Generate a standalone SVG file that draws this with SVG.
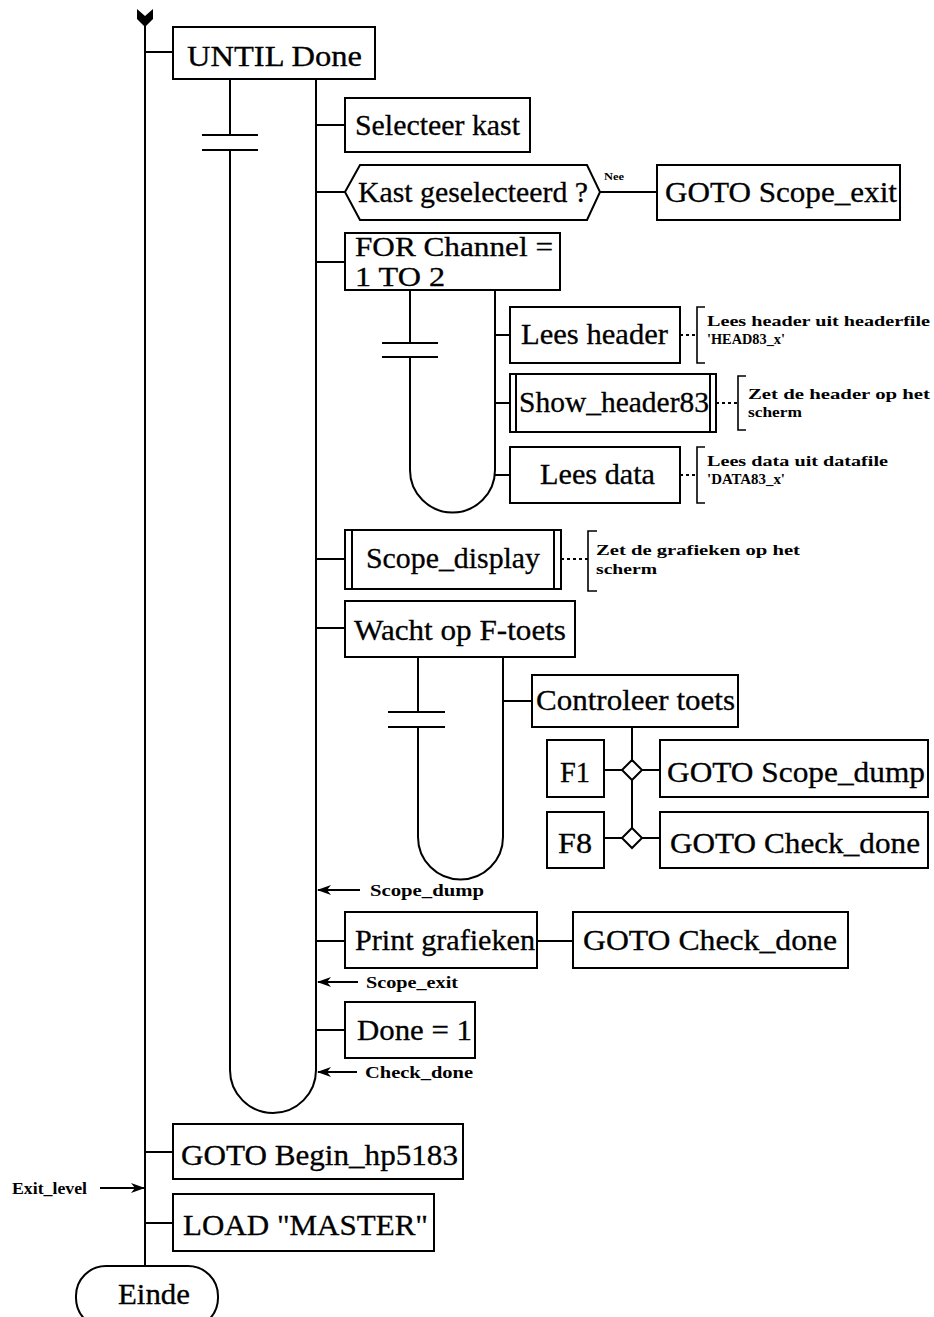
<svg xmlns="http://www.w3.org/2000/svg" width="934" height="1317" viewBox="0 0 934 1317">
  <defs>
    <marker id="arrow" viewBox="0 0 14 10" refX="13" refY="5" markerWidth="14" markerHeight="10" markerUnits="userSpaceOnUse" orient="auto">
      <path d="M0,0 L14,5 L0,10 L4,5 Z" fill="#000"/>
    </marker>
  </defs>
  <style>
    .box { fill: #fff; stroke: #000; stroke-width: 2; }
    .ln { fill: none; stroke: #000; stroke-width: 2; }
    .dash { fill: none; stroke: #000; stroke-width: 2; stroke-dasharray: 3 3; }
    .br { fill: none; stroke: #000; stroke-width: 1.6; }
    .t { font-family: "Liberation Serif", "Times New Roman", serif; font-size: 29px; fill: #000; stroke: #000; stroke-width: 0.3; }
    .t2 { font-family: "Liberation Serif", "Times New Roman", serif; font-size: 27px; fill: #000; stroke: #000; stroke-width: 0.3; }
    .c { font-family: "Liberation Serif", "Times New Roman", serif; font-size: 17px; font-weight: bold; fill: #000; }
    .n { font-family: "Liberation Serif", "Times New Roman", serif; font-size: 15.5px; font-weight: bold; fill: #000; }
    .s { font-family: "Liberation Serif", "Times New Roman", serif; font-size: 11px; font-weight: bold; fill: #000; }
  </style>
  <rect width="934" height="1317" fill="#fff"/>

  <!-- connectors: trunks, loops and stubs -->
  <g id="connectors">
    <!-- main trunk with entry arrow -->
    <line class="ln" x1="145" y1="20" x2="145" y2="1268"/>
    <path d="M137,9 L145,16 L153,9 L153,19 L145,27 L137,19 Z" fill="#000"/>
    <line class="ln" x1="145" y1="52" x2="173" y2="52"/>
    <line class="ln" x1="145" y1="1152" x2="173" y2="1152"/>
    <line class="ln" x1="145" y1="1223" x2="173" y2="1223"/>

    <!-- UNTIL loop -->
    <line class="ln" x1="230" y1="79" x2="230" y2="135"/>
    <line class="ln" x1="202" y1="135" x2="258" y2="135"/>
    <line class="ln" x1="202" y1="150" x2="258" y2="150"/>
    <path class="ln" d="M230,150 L230,1070 A43,43 0 0 0 316,1070 L316,79"/>
    <line class="ln" x1="316" y1="125" x2="345" y2="125"/>
    <line class="ln" x1="316" y1="192" x2="345" y2="192"/>
    <line class="ln" x1="600" y1="192" x2="657" y2="192"/>
    <line class="ln" x1="316" y1="262" x2="345" y2="262"/>
    <line class="ln" x1="316" y1="559" x2="345" y2="559"/>
    <line class="ln" x1="316" y1="628" x2="345" y2="628"/>
    <line class="ln" x1="316" y1="941" x2="345" y2="941"/>
    <line class="ln" x1="537" y1="941" x2="573" y2="941"/>
    <line class="ln" x1="316" y1="1030" x2="345" y2="1030"/>

    <!-- FOR Channel loop -->
    <line class="ln" x1="410" y1="290" x2="410" y2="343"/>
    <line class="ln" x1="382" y1="343" x2="438" y2="343"/>
    <line class="ln" x1="382" y1="357" x2="438" y2="357"/>
    <path class="ln" d="M410,357 L410,470 A42.5,42.5 0 0 0 495,470 L495,290"/>
    <line class="ln" x1="495" y1="335" x2="510" y2="335"/>
    <line class="ln" x1="495" y1="403" x2="510" y2="403"/>
    <line class="ln" x1="495" y1="475" x2="510" y2="475"/>

    <!-- comment links -->
    <line class="dash" x1="680" y1="335" x2="697" y2="335"/>
    <line class="dash" x1="716" y1="403" x2="738" y2="403"/>
    <line class="dash" x1="680" y1="475" x2="697" y2="475"/>
    <line class="dash" x1="561" y1="559" x2="588" y2="559"/>

    <!-- Wacht op F-toets loop -->
    <line class="ln" x1="418" y1="657" x2="418" y2="712"/>
    <line class="ln" x1="388" y1="712" x2="445" y2="712"/>
    <line class="ln" x1="388" y1="727" x2="445" y2="727"/>
    <path class="ln" d="M418,727 L418,837 A42.5,42.5 0 0 0 503,837 L503,657"/>
    <line class="ln" x1="503" y1="701" x2="532" y2="701"/>

    <!-- key selection -->
    <line class="ln" x1="632" y1="727" x2="632" y2="760"/>
    <line class="ln" x1="632" y1="780" x2="632" y2="828"/>
    <line class="ln" x1="604" y1="770" x2="622" y2="770"/>
    <line class="ln" x1="642" y1="770" x2="660" y2="770"/>
    <line class="ln" x1="604" y1="838" x2="622" y2="838"/>
    <line class="ln" x1="642" y1="838" x2="660" y2="838"/>

    <!-- jump labels -->
    <line class="ln" x1="360" y1="890" x2="318" y2="890" marker-end="url(#arrow)"/>
    <line class="ln" x1="358" y1="982" x2="318" y2="982" marker-end="url(#arrow)"/>
    <line class="ln" x1="357" y1="1072" x2="318" y2="1072" marker-end="url(#arrow)"/>
    <line class="ln" x1="100" y1="1188" x2="144" y2="1188" marker-end="url(#arrow)"/>
  </g>

  <g id="until-done">
    <rect class="box" x="173" y="27" width="202" height="52"/>
    <text class="t" x="187" y="66" textLength="175" lengthAdjust="spacingAndGlyphs">UNTIL Done</text>
  </g>

  <g id="selecteer-kast">
    <rect class="box" x="345" y="98" width="185" height="54"/>
    <text class="t" x="355" y="135" textLength="165" lengthAdjust="spacingAndGlyphs">Selecteer kast</text>
  </g>

  <g id="kast-geselecteerd">
    <polygon class="box" points="345,192 360,165 587,165 600,192 587,220 360,220"/>
    <text class="t" x="358" y="202" textLength="230" lengthAdjust="spacingAndGlyphs">Kast geselecteerd ?</text>
    <text class="s" x="604" y="180" textLength="20" lengthAdjust="spacingAndGlyphs">Nee</text>
  </g>

  <g id="goto-scope-exit">
    <rect class="box" x="657" y="165" width="243" height="55"/>
    <text class="t" x="665" y="202" textLength="232" lengthAdjust="spacingAndGlyphs">GOTO Scope_exit</text>
  </g>

  <g id="for-channel">
    <rect class="box" x="345" y="233" width="215" height="57"/>
    <text class="t2" x="355" y="256" textLength="198" lengthAdjust="spacingAndGlyphs">FOR Channel =</text>
    <text class="t2" x="355" y="286" textLength="90" lengthAdjust="spacingAndGlyphs">1 TO 2</text>
  </g>

  <g id="lees-header">
    <rect class="box" x="510" y="307" width="170" height="56"/>
    <text class="t" x="521" y="344" textLength="147" lengthAdjust="spacingAndGlyphs">Lees header</text>
    <path class="br" d="M705,307 L697,307 L697,363 L705,363"/>
    <text class="n" x="707" y="326" textLength="223" lengthAdjust="spacingAndGlyphs">Lees header uit headerfile</text>
    <text class="n" x="707" y="344" textLength="78" lengthAdjust="spacingAndGlyphs">'HEAD83_x'</text>
  </g>

  <g id="show-header83">
    <rect class="box" x="510" y="374" width="206" height="58"/>
    <line class="ln" x1="516" y1="374" x2="516" y2="432"/>
    <line class="ln" x1="710" y1="374" x2="710" y2="432"/>
    <text class="t" x="519" y="412" textLength="190" lengthAdjust="spacingAndGlyphs">Show_header83</text>
    <path class="br" d="M746,376 L738,376 L738,430 L746,430"/>
    <text class="n" x="748" y="399" textLength="182" lengthAdjust="spacingAndGlyphs">Zet de header op het</text>
    <text class="n" x="748" y="417" textLength="54" lengthAdjust="spacingAndGlyphs">scherm</text>
  </g>

  <g id="lees-data">
    <rect class="box" x="510" y="447" width="170" height="56"/>
    <text class="t" x="540" y="484" textLength="115" lengthAdjust="spacingAndGlyphs">Lees data</text>
    <path class="br" d="M705,447 L697,447 L697,503 L705,503"/>
    <text class="n" x="707" y="466" textLength="181" lengthAdjust="spacingAndGlyphs">Lees data uit datafile</text>
    <text class="n" x="707" y="484" textLength="78" lengthAdjust="spacingAndGlyphs">'DATA83_x'</text>
  </g>

  <g id="scope-display">
    <rect class="box" x="345" y="530" width="216" height="59"/>
    <line class="ln" x1="352" y1="530" x2="352" y2="589"/>
    <line class="ln" x1="554" y1="530" x2="554" y2="589"/>
    <text class="t" x="366" y="568" textLength="174" lengthAdjust="spacingAndGlyphs">Scope_display</text>
    <path class="br" d="M597,531 L588,531 L588,591 L597,591"/>
    <text class="n" x="596" y="555" textLength="204" lengthAdjust="spacingAndGlyphs">Zet de grafieken op het</text>
    <text class="n" x="596" y="574" textLength="61" lengthAdjust="spacingAndGlyphs">scherm</text>
  </g>

  <g id="wacht-op-f-toets">
    <rect class="box" x="345" y="601" width="230" height="56"/>
    <text class="t" x="354" y="640" textLength="212" lengthAdjust="spacingAndGlyphs">Wacht op F-toets</text>
  </g>

  <g id="controleer-toets">
    <rect class="box" x="532" y="675" width="206" height="52"/>
    <text class="t" x="536" y="710" textLength="199" lengthAdjust="spacingAndGlyphs">Controleer toets</text>
  </g>

  <g id="f1">
    <rect class="box" x="547" y="740" width="57" height="57"/>
    <text class="t" x="560" y="782" textLength="30" lengthAdjust="spacingAndGlyphs">F1</text>
    <polygon class="box" points="632,760 642,770 632,780 622,770"/>
  </g>

  <g id="goto-scope-dump">
    <rect class="box" x="660" y="740" width="268" height="57"/>
    <text class="t" x="667" y="782" textLength="258" lengthAdjust="spacingAndGlyphs">GOTO Scope_dump</text>
  </g>

  <g id="f8">
    <rect class="box" x="547" y="812" width="57" height="56"/>
    <text class="t" x="558" y="853" textLength="34" lengthAdjust="spacingAndGlyphs">F8</text>
    <polygon class="box" points="632,828 642,838 632,848 622,838"/>
  </g>

  <g id="goto-check-done-1">
    <rect class="box" x="660" y="812" width="268" height="56"/>
    <text class="t" x="670" y="853" textLength="250" lengthAdjust="spacingAndGlyphs">GOTO Check_done</text>
  </g>

  <g id="label-scope-dump">
    <text class="c" x="370" y="896" textLength="114" lengthAdjust="spacingAndGlyphs">Scope_dump</text>
  </g>

  <g id="print-grafieken">
    <rect class="box" x="345" y="912" width="192" height="56"/>
    <text class="t" x="355" y="950" textLength="180" lengthAdjust="spacingAndGlyphs">Print grafieken</text>
  </g>

  <g id="goto-check-done-2">
    <rect class="box" x="573" y="912" width="275" height="56"/>
    <text class="t" x="583" y="950" textLength="254" lengthAdjust="spacingAndGlyphs">GOTO Check_done</text>
  </g>

  <g id="label-scope-exit">
    <text class="c" x="366" y="988" textLength="92" lengthAdjust="spacingAndGlyphs">Scope_exit</text>
  </g>

  <g id="done-1">
    <rect class="box" x="345" y="1002" width="130" height="56"/>
    <text class="t" x="357" y="1040" textLength="115" lengthAdjust="spacingAndGlyphs">Done = 1</text>
  </g>

  <g id="label-check-done">
    <text class="c" x="365" y="1078" textLength="108" lengthAdjust="spacingAndGlyphs">Check_done</text>
  </g>

  <g id="goto-begin">
    <rect class="box" x="173" y="1124" width="290" height="55"/>
    <text class="t" x="181" y="1165" textLength="277" lengthAdjust="spacingAndGlyphs">GOTO Begin_hp5183</text>
  </g>

  <g id="label-exit-level">
    <text class="c" x="12" y="1194" textLength="75" lengthAdjust="spacingAndGlyphs">Exit_level</text>
  </g>

  <g id="load-master">
    <rect class="box" x="173" y="1194" width="261" height="57"/>
    <text class="t" x="183" y="1235" textLength="245" lengthAdjust="spacingAndGlyphs">LOAD "MASTER"</text>
  </g>

  <g id="einde">
    <rect class="box" x="76" y="1266" width="142" height="62" rx="30" ry="30"/>
    <text class="t" x="118" y="1304" textLength="72" lengthAdjust="spacingAndGlyphs">Einde</text>
  </g>
</svg>
